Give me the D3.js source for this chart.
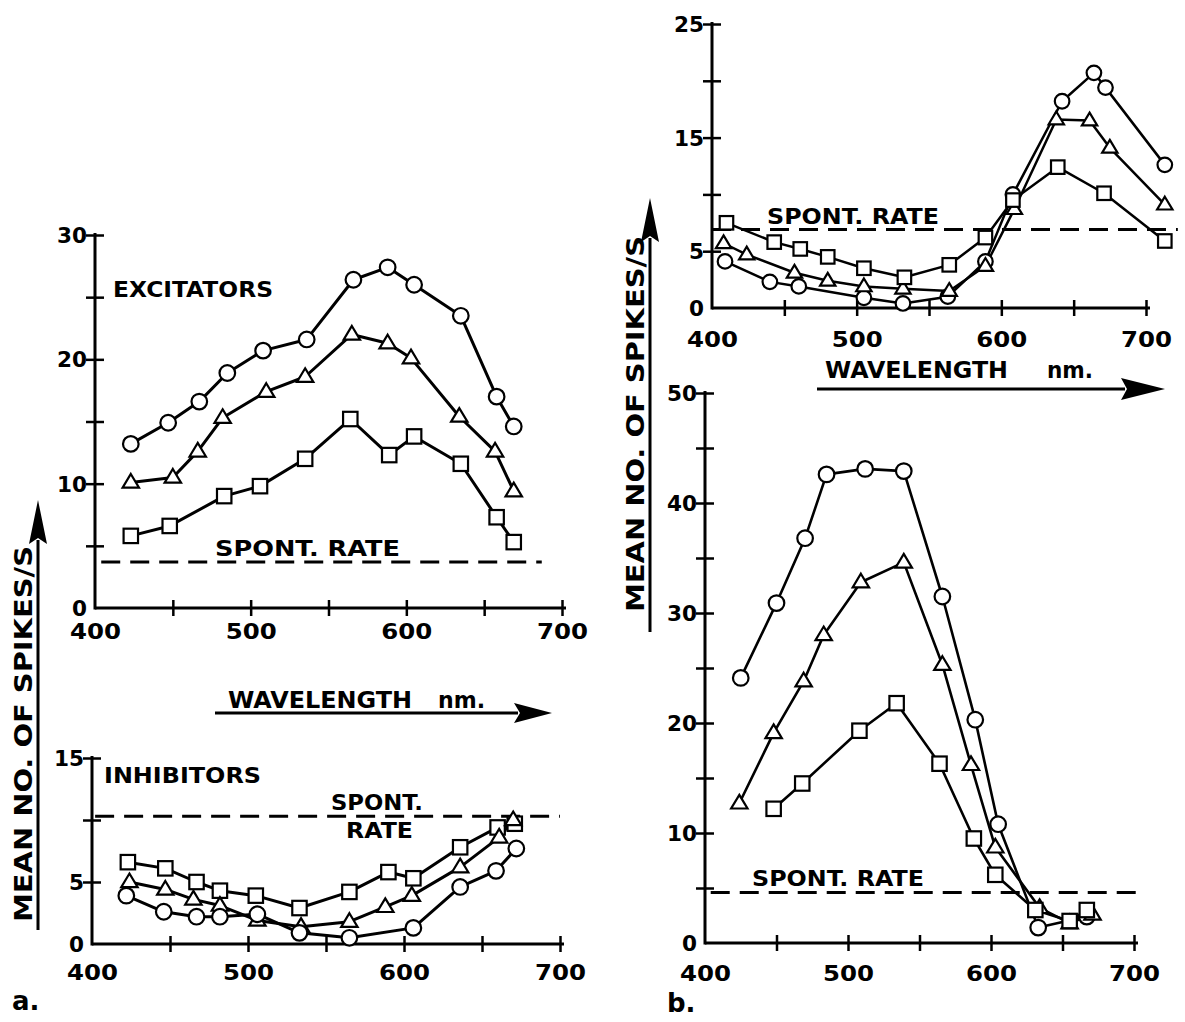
<!DOCTYPE html>
<html>
<head>
<meta charset="utf-8">
<script src="https://cdn.jsdelivr.net/npm/d3@7"></script>
<style>
  html, body { margin: 0; padding: 0; background: #fff; }
  svg { display: block; }
  text { font-family: "DejaVu Sans", sans-serif; font-weight: bold; fill: #000; }
</style>
</head>
<body>
<svg id="fig" width="1185" height="1022"></svg>
<script>
// Wavelength ticks shared by every panel
const xTickValues = [400, 450, 500, 550, 600, 650, 700];
const xTickLabels = [400, 500, 600, 700];

// a. Excitators
const excCircleWl = [423, 447, 467, 485, 508, 536, 566, 588, 605, 635, 658, 669];
const excCircleRate = [13.2, 14.9, 16.6, 18.9, 20.7, 21.6, 26.4, 27.4, 26.0, 23.5, 17.0, 14.6];
const excTriangleWl = [423, 450, 466, 482, 510, 535, 565, 588, 603, 634, 657, 669];
const excTriangleRate = [10.1, 10.5, 12.6, 15.3, 17.4, 18.6, 22.0, 21.3, 20.1, 15.4, 12.6, 9.4];
const excSquareWl = [423, 448, 483, 506, 535, 564, 589, 605, 635, 658, 669];
const excSquareRate = [5.8, 6.6, 9.0, 9.8, 12.0, 15.2, 12.3, 13.8, 11.6, 7.3, 5.3];
const excSpont = 3.7;
const excYLabels = [0, 10, 20, 30];

// a. Inhibitors
const inhSquareWl = [423, 447, 467, 482, 505, 533, 565, 590, 606, 636, 660, 671];
const inhSquareRate = [6.6, 6.1, 5.0, 4.3, 3.9, 2.9, 4.2, 5.8, 5.3, 7.8, 9.4, 9.7];
const inhTriangleWl = [424, 447, 465, 482, 506, 534, 565, 588, 605, 636, 661, 670];
const inhTriangleRate = [5.0, 4.4, 3.6, 3.1, 1.9, 1.4, 1.8, 3.0, 3.9, 6.2, 8.6, 10.0];
const inhCircleWl = [422, 446, 467, 482, 506, 533, 565, 606, 636, 659, 672];
const inhCircleRate = [3.9, 2.6, 2.2, 2.2, 2.4, 0.9, 0.5, 1.3, 4.6, 5.9, 7.7];
const inhSpont = 10.3;
const inhYLabels = [0, 5, 15];

// b. upper panel
const bUpCircleWl = [409, 440, 460, 505, 532, 563, 589, 608, 642, 664, 672, 713];
const bUpCircleRate = [4.1, 2.3, 1.9, 0.9, 0.4, 1.0, 4.1, 10.0, 18.2, 20.7, 19.4, 12.6];
const bUpTriangleWl = [408, 424, 457, 480, 505, 532, 564, 589, 609, 638, 661, 675, 713];
const bUpTriangleRate = [5.7, 4.7, 3.1, 2.4, 1.9, 1.7, 1.5, 3.7, 8.7, 16.6, 16.5, 14.1, 9.1];
const bUpSquareWl = [410, 443, 461, 480, 505, 533, 564, 589, 608, 639, 671, 713];
const bUpSquareRate = [7.5, 5.8, 5.2, 4.5, 3.5, 2.7, 3.8, 6.2, 9.5, 12.4, 10.1, 5.9];
const bUpSpont = 6.9;
const bUpYLabels = [0, 5, 15, 25];

// b. lower panel
const bLoCircleWl = [425, 450, 470, 485, 512, 539, 566, 589, 605, 633, 667];
const bLoCircleRate = [24.1, 30.9, 36.8, 42.6, 43.1, 42.9, 31.5, 20.3, 10.8, 1.4, 2.4];
const bLoTriangleWl = [424, 448, 469, 483, 509, 539, 566, 586, 603, 634, 655, 671];
const bLoTriangleRate = [12.7, 19.1, 23.8, 28.0, 32.8, 34.6, 25.3, 16.2, 8.7, 3.2, 1.8, 2.6];
const bLoSquareWl = [448, 468, 508, 534, 564, 588, 603, 631, 655, 667];
const bLoSquareRate = [12.2, 14.5, 19.3, 21.8, 16.3, 9.5, 6.2, 3.0, 2.0, 3.0];
const bLoSpont = 4.6;
const bLoYLabels = [0, 10, 20, 30, 40, 50];

const svg = d3.select("#fig");

function zip(wl, rate) { return wl.map((w, i) => ({ wl: w, rate: rate[i] })); }

function drawMarker(g, kind, x, y, r) {
  if (kind === "circle") {
    g.append("circle").attr("cx", x).attr("cy", y).attr("r", r)
      .attr("fill", "#fff").attr("stroke", "#000").attr("stroke-width", 2.2);
  } else if (kind === "square") {
    const s = r * 1.85;
    g.append("rect").attr("x", x - s / 2).attr("y", y - s / 2).attr("width", s).attr("height", s)
      .attr("fill", "#fff").attr("stroke", "#000").attr("stroke-width", 2.2);
  } else {
    const w = r * 2.1, h = r * 1.75;
    g.append("path")
      .attr("d", `M${x},${y - h * 0.62}L${x + w / 2},${y + h * 0.38}L${x - w / 2},${y + h * 0.38}Z`)
      .attr("fill", "#fff").attr("stroke", "#000").attr("stroke-width", 2.2).attr("stroke-linejoin", "miter");
  }
}

function panel(cfg) {
  const x = d3.scaleLinear().domain([400, 700]).range(cfg.xRange);
  const y = d3.scaleLinear().domain([0, cfg.yMax]).range(cfg.yRange);
  const g = svg.append("g");

  // x axis with ticks crossing the line
  const xAxis = d3.axisBottom(x).tickValues(xTickValues)
    .tickFormat(d => xTickLabels.includes(d) ? d : "").tickSizeOuter(0);
  const gx = g.append("g").attr("transform", `translate(0,${cfg.yRange[0]})`).call(xAxis);
  gx.select(".domain").attr("stroke-width", 3).attr("d", `M${cfg.xRange[0]},0H${x(700) + 4}`);
  gx.selectAll(".tick line").attr("y1", -8).attr("y2", 8).attr("stroke-width", 2.5)
    .attr("display", d => d === 400 ? "none" : null);
  gx.selectAll(".tick text").attr("y", cfg.xLabelDy).attr("dy", null)
    .attr("font-family", "DejaVu Sans").attr("font-weight", "bold").attr("font-size", 21)
    .attr("textLength", 51).attr("lengthAdjust", "spacingAndGlyphs");

  // y axis
  const yTicks = d3.range(0, cfg.yMax + 1, 5);
  const yAxis = d3.axisLeft(y).tickValues(yTicks)
    .tickFormat(d => cfg.yLabels.includes(d) ? d : "").tickSizeOuter(0);
  const gy = g.append("g").attr("transform", `translate(${cfg.xRange[0]},0)`).call(yAxis);
  gy.select(".domain").attr("stroke-width", 3).attr("d", `M0,${cfg.yRange[0] + 1.5}V${cfg.yRange[1] - 2}`);
  gy.selectAll(".tick line").attr("x1", -9).attr("x2", 9).attr("stroke-width", 2.5)
    .attr("display", d => d === 0 ? "none" : null);
  gy.selectAll(".tick text").attr("x", -8).attr("dy", "0.36em")
    .attr("font-family", "DejaVu Sans").attr("font-weight", "bold").attr("font-size", 21)
    .attr("textLength", d => String(d).length * 15).attr("lengthAdjust", "spacingAndGlyphs");
  gx.attr("font-family", null); gy.attr("font-family", null);

  // spontaneous rate
  g.append("line").attr("x1", x(cfg.spontFrom)).attr("x2", x(cfg.spontTo))
    .attr("y1", y(cfg.spont)).attr("y2", y(cfg.spont))
    .attr("stroke", "#000").attr("stroke-width", 3).attr("stroke-dasharray", "19,10");

  // series
  const line = d3.line().x(d => x(d.wl)).y(d => y(d.rate));
  cfg.series.forEach(s => {
    g.append("path").datum(zip(s.wl, s.rate)).attr("d", line)
      .attr("fill", "none").attr("stroke", "#000").attr("stroke-width", cfg.lineWidth)
      .attr("stroke-linejoin", "round");
  });
  cfg.series.forEach(s => {
    zip(s.wl, s.rate).forEach(d => drawMarker(g, s.kind, x(d.wl), y(d.rate), cfg.r));
  });
  return { g, x, y };
}

panel({
  xRange: [95, 562], yRange: [608, 235], yMax: 30, yLabels: excYLabels, xLabelDy: 31,
  spont: excSpont, spontFrom: 404, spontTo: 687, lineWidth: 3, r: 7.8,
  series: [
    { kind: "circle", wl: excCircleWl, rate: excCircleRate },
    { kind: "triangle", wl: excTriangleWl, rate: excTriangleRate },
    { kind: "square", wl: excSquareWl, rate: excSquareRate }
  ]
});
panel({
  xRange: [92, 560], yRange: [944, 758], yMax: 15, yLabels: inhYLabels, xLabelDy: 36,
  spont: inhSpont, spontFrom: 402, spontTo: 700, lineWidth: 3, r: 7.8,
  series: [
    { kind: "square", wl: inhSquareWl, rate: inhSquareRate },
    { kind: "triangle", wl: inhTriangleWl, rate: inhTriangleRate },
    { kind: "circle", wl: inhCircleWl, rate: inhCircleRate }
  ]
});
panel({
  xRange: [712, 1146], yRange: [308, 24], yMax: 25, yLabels: bUpYLabels, xLabelDy: 39,
  spont: bUpSpont, spontFrom: 400, spontTo: 722, lineWidth: 2.5, r: 7.3,
  series: [
    { kind: "circle", wl: bUpCircleWl, rate: bUpCircleRate },
    { kind: "triangle", wl: bUpTriangleWl, rate: bUpTriangleRate },
    { kind: "square", wl: bUpSquareWl, rate: bUpSquareRate }
  ]
});
panel({
  xRange: [705, 1134], yRange: [943, 393], yMax: 50, yLabels: bLoYLabels, xLabelDy: 38,
  spont: bLoSpont, spontFrom: 404, spontTo: 705, lineWidth: 2.6, r: 7.8,
  series: [
    { kind: "circle", wl: bLoCircleWl, rate: bLoCircleRate },
    { kind: "triangle", wl: bLoTriangleWl, rate: bLoTriangleRate },
    { kind: "square", wl: bLoSquareWl, rate: bLoSquareRate }
  ]
});

// panel captions and labels
function label(txt, x, y, size, len) {
  const t = svg.append("text").attr("x", x).attr("y", y).attr("font-size", size).text(txt);
  if (len) t.attr("textLength", len).attr("lengthAdjust", "spacingAndGlyphs");
  return t;
}
label("EXCITATORS", 113, 297, 21, 160);
label("SPONT. RATE", 215, 556, 22, 185);
label("INHIBITORS", 104, 783, 21, 157);
label("SPONT.", 331, 810, 22, 92);
label("RATE", 346, 838, 22, 67);
label("SPONT. RATE", 767, 224, 22, 172);
label("SPONT. RATE", 752, 886, 22, 172);
label("a.", 12, 1010, 26);
label("b.", 667, 1012, 26);

// horizontal wavelength arrows
function hArrow(x0, x1, y, headLen, headHalf) {
  svg.append("line").attr("x1", x0).attr("x2", x1 - headLen + 4).attr("y1", y).attr("y2", y)
    .attr("stroke", "#000").attr("stroke-width", 3);
  svg.append("path")
    .attr("d", `M${x1},${y}L${x1 - headLen},${y - headHalf}L${x1 - headLen + 6},${y}L${x1 - headLen},${y + headHalf}Z`)
    .attr("fill", "#000");
}
label("WAVELENGTH", 228, 708, 23, 184);
label("nm.", 438, 708, 23, 47);
hArrow(215, 552, 713, 38, 10);
label("WAVELENGTH", 825, 378, 23, 183);
label("nm.", 1047, 378, 23, 46);
hArrow(817, 1165, 389, 44, 11);

// vertical rate arrows with rotated titles
function vArrow(x, y0, y1, headLen, headHalf) {
  svg.append("line").attr("x1", x).attr("x2", x).attr("y1", y0).attr("y2", y1 + headLen - 4)
    .attr("stroke", "#000").attr("stroke-width", 3);
  svg.append("path")
    .attr("d", `M${x},${y1}L${x - headHalf},${y1 + headLen}L${x},${y1 + headLen - 6}L${x + headHalf},${y1 + headLen}Z`)
    .attr("fill", "#000");
}
function vTitle(x, y) {
  svg.append("text").attr("transform", `translate(${x},${y}) rotate(-90)`)
    .attr("font-size", 25).attr("textLength", 376).attr("lengthAdjust", "spacingAndGlyphs")
    .text("MEAN NO. OF SPIKES/S");
}
vTitle(32, 922);
vArrow(38, 930, 500, 44, 9);
vTitle(644, 612);
vArrow(650, 632, 198, 44, 9);
</script>
</body>
</html>
